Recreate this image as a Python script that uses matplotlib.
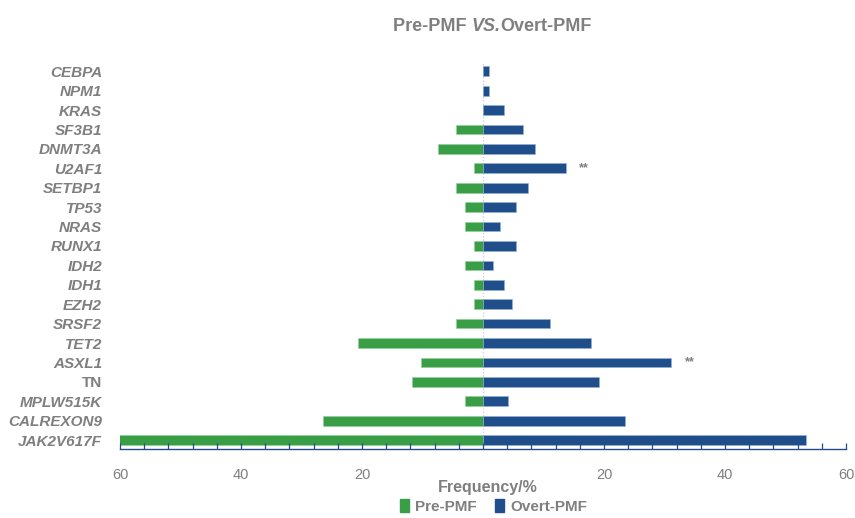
import numpy as np
import matplotlib.pyplot as plt
from matplotlib.ticker import MultipleLocator, FuncFormatter
from matplotlib.patches import Patch

# genes listed bottom to top
genes = ['JAK2V617F', 'CALREXON9', 'MPLW515K', 'TN', 'ASXL1', 'TET2', 'SRSF2',
         'EZH2', 'IDH1', 'IDH2', 'RUNX1', 'NRAS', 'TP53', 'SETBP1', 'U2AF1',
         'DNMT3A', 'SF3B1', 'KRAS', 'NPM1', 'CEBPA']
pre_pmf = [60.3, 26.5, 2.9, 11.8, 10.3, 20.6, 4.4, 1.5, 1.5, 2.9, 1.5, 2.9,
           2.9, 4.4, 1.5, 7.4, 4.4, 0, 0, 0]
overt_pmf = [53.4, 23.5, 4.1, 19.2, 31.1, 17.9, 11.1, 4.8, 3.5, 1.7, 5.5, 2.8,
             5.5, 7.4, 13.7, 8.6, 6.6, 3.5, 1.0, 1.0]
signif = {'ASXL1': '**', 'U2AF1': '**'}

green = '#3a9e47'
blue = '#1f4e8a'
grey = '#7f7f7f'

plt.rcParams['font.family'] = ['Liberation Sans', 'DejaVu Sans']

fig = plt.figure(figsize=(8.55, 5.18), dpi=100)
ax = fig.add_axes([0.1404, 0.1332, 0.8491, 0.748])

y = np.arange(len(genes))
ax.barh(y, -np.array(pre_pmf), height=0.5, color=green, edgecolor='#8fd19a', linewidth=0.4)
ax.barh(y, overt_pmf, height=0.5, color=blue, edgecolor='#8fb3d9', linewidth=0.4)

for i, g in enumerate(genes):
    if g in signif:
        ax.text(overt_pmf[i] + 2.2, i, signif[g], color=grey, fontsize=9,
                fontweight='bold', va='center', ha='left')

ax.axvline(0, color='#c9c9e6', lw=0.9, ls=':', zorder=0)

ax.set_xlim(-60, 60)
ax.set_ylim(-0.46, 19.5)
ax.set_yticks(y)
ax.set_yticklabels(genes)
for lab in ax.get_yticklabels():
    lab.set_fontweight('bold')
    lab.set_color(grey)
    lab.set_fontsize(11)
    if lab.get_text() != 'TN':
        lab.set_fontstyle('italic')
ax.tick_params(axis='y', length=0, pad=13)

ax.xaxis.set_major_locator(MultipleLocator(20))
ax.xaxis.set_minor_locator(MultipleLocator(4))
ax.xaxis.set_major_formatter(FuncFormatter(lambda v, p: '' if v == 0 else '%d' % abs(v)))
ax.tick_params(axis='x', which='both', direction='in', length=4, width=0.9,
               color=blue, labelcolor=grey, labelsize=10.5, pad=14)

for s in ['top', 'right', 'left']:
    ax.spines[s].set_visible(False)
ax.spines['bottom'].set_color(blue)
ax.spines['bottom'].set_linewidth(1.0)

fig.text(0.571, 0.058, 'Frequency/%', ha='center', va='center', color=grey,
         fontsize=11.5, fontweight='bold')

# legend
handles = [Patch(color=green, label='Pre-PMF'), Patch(color=blue, label='Overt-PMF')]
leg = fig.legend(handles=handles, loc='center', bbox_to_anchor=(0.577, 0.022), ncol=2,
                 frameon=False, handlelength=0.6, handleheight=0.9, handletextpad=0.4,
                 columnspacing=1.2, fontsize=11)
for t in leg.get_texts():
    t.set_color(grey)
    t.set_fontweight('bold')

# title with italic "VS."
parts = [('Pre-PMF ', 'normal'), ('VS.', 'italic'), ('Overt-PMF', 'normal')]
fig.canvas.draw()
r = fig.canvas.get_renderer()
objs = []
for s, st in parts:
    objs.append(fig.text(0, 0.948, s, fontsize=13, fontweight='bold', fontstyle=st,
                         color=grey, va='center', ha='left'))
widths = [o.get_window_extent(r).width for o in objs]
x0 = 0.5755 * fig.bbox.width - sum(widths) / 2
for o, w in zip(objs, widths):
    o.set_x(x0 / fig.bbox.width)
    x0 += w

fig.savefig('out.png', dpi=100)
